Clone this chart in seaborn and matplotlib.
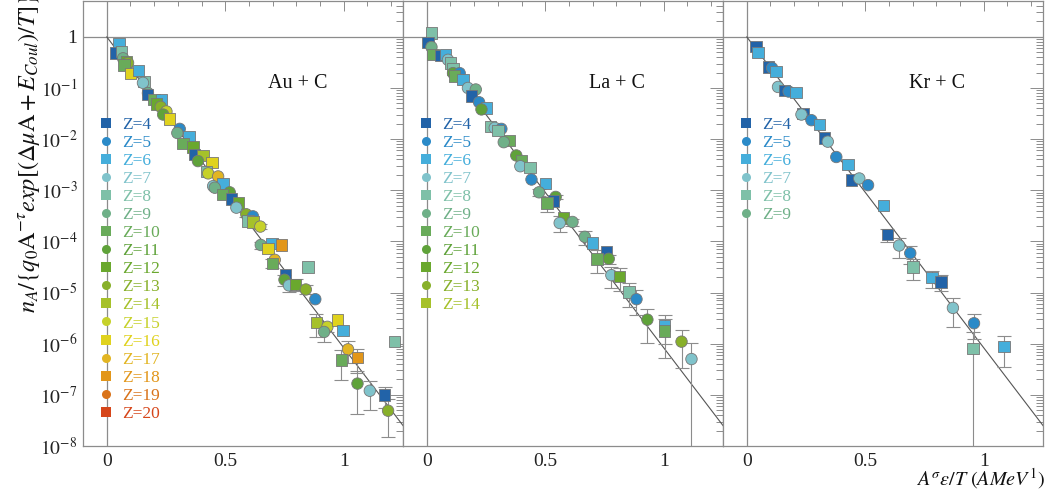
import numpy as np
import pandas as pd
import matplotlib
matplotlib.use('Agg')
import matplotlib.pyplot as plt
import seaborn as sns
from matplotlib.lines import Line2D
from matplotlib.ticker import MultipleLocator, LogLocator, FixedLocator, FixedFormatter, NullFormatter

# ---- datos (log10 del rendimiento escalado) ----
# Au + C
au_z = [6, 4, 8, 9, 12, 13, 10, 16, 6, 8, 7, 9, 4, 10, 6, 12, 13, 15, 11, 16,
        5, 9, 6, 10, 12, 4, 14, 11, 16, 8, 15, 17, 6, 7, 9, 11, 10, 4, 12, 7,
        13, 5, 8, 14, 15, 9, 6, 18, 16, 17, 10, 8, 4, 11, 7, 12, 13, 5, 14, 15,
        9, 16, 6, 17, 18, 10, 11, 7, 4, 13, 8]
au_x = [0.051, 0.037, 0.062, 0.069, 0.083, 0.090, 0.073, 0.101, 0.135, 0.157,
        0.153, 0.174, 0.172, 0.200, 0.231, 0.210, 0.228, 0.252, 0.238, 0.266,
        0.308, 0.298, 0.347, 0.322, 0.364, 0.371, 0.406, 0.385, 0.444, 0.421,
        0.428, 0.470, 0.491, 0.449, 0.456, 0.519, 0.488, 0.526, 0.557, 0.547,
        0.589, 0.617, 0.596, 0.617, 0.648, 0.650, 0.698, 0.737, 0.681, 0.709,
        0.699, 0.849, 0.755, 0.750, 0.769, 0.797, 0.840, 0.880, 0.885, 0.931,
        0.917, 0.973, 0.997, 1.018, 1.058, 0.990, 1.058, 1.110, 1.173, 1.187,
        1.214]
au_logy = [-0.14, -0.32, -0.29, -0.42, -0.48, -0.51, -0.55, -0.72, -0.66, -0.87,
           -0.90, -1.10, -1.13, -1.23, -1.23, -1.31, -1.37, -1.46, -1.52, -1.61,
           -1.80, -1.88, -1.96, -2.09, -2.15, -2.30, -2.32, -2.43, -2.46, -2.63,
           -2.67, -2.73, -2.87, -2.92, -2.95, -3.04, -3.08, -3.17, -3.25, -3.34,
           -3.47, -3.51, -3.60, -3.62, -3.71, -4.07, -4.04, -4.07, -4.14, -4.36,
           -4.43, -4.50, -4.66, -4.75, -4.86, -4.84, -4.94, -5.13, -5.59, -5.67,
           -5.77, -5.54, -5.74, -6.11, -6.27, -6.32, -6.78, -6.92, -7.00, -7.31,
           -5.96]
au_err = [0] * 40 + [0.1, 0, 0, 0, 0.1, 0.15, 0, 0, 0, 0,
                     0.2, 0, 0, 0.25, 0.25, 0.25, 0.2, 0, 0.48, 0.2,
                     0.36, 0, 0, 0.45, 0.5, 0.6, 0.75, 0.57, 0.45, 0.7,
                     0]

# La + C
la_z = [8, 4, 9, 10, 4, 6, 7, 8, 8, 11, 5, 10, 6, 7, 9, 4, 5, 6, 11, 8,
        7, 5, 8, 10, 9, 11, 10, 7, 8, 5, 6, 9, 11, 4, 10, 12, 7, 9, 9, 6,
        4, 11, 10, 7, 12, 8, 5, 11, 6, 10, 13, 7]
la_x = [0.020, 0.006, 0.020, 0.027, 0.058, 0.080, 0.090, 0.100, 0.111, 0.111,
        0.139, 0.118, 0.153, 0.174, 0.207, 0.189, 0.221, 0.252, 0.231, 0.269,
        0.287, 0.315, 0.301, 0.350, 0.325, 0.378, 0.400, 0.395, 0.435, 0.442,
        0.502, 0.474, 0.544, 0.536, 0.508, 0.578, 0.561, 0.615, 0.667, 0.699,
        0.758, 0.768, 0.719, 0.779, 0.814, 0.854, 0.885, 0.931, 1.004, 1.004,
        1.075, 1.117]
la_logy = [0.07, -0.11, -0.20, -0.35, -0.37, -0.35, -0.45, -0.51, -0.63, -0.71,
           -0.71, -0.77, -0.83, -1.00, -1.03, -1.16, -1.28, -1.39, -1.42, -1.75,
           -1.78, -1.80, -1.83, -2.03, -2.06, -2.32, -2.43, -2.53, -2.56, -2.79,
           -2.87, -3.04, -3.13, -3.21, -3.25, -3.54, -3.64, -3.62, -3.91, -4.03,
           -4.21, -4.34, -4.34, -4.66, -4.69, -4.99, -5.13, -5.53, -5.64, -5.75,
           -5.96, -6.30]
la_err = [0] * 31 + [0.15, 0.1, 0, 0.34, 0, 0.34, 0.15, 0.3, 0,
                     0, 0.2, 0.47, 0.44, 0.47, 0.5, 0.5, 0.65, 0.57, 0.7,
                     0.7, 1.05]

# Kr + C
kr_z = [4, 6, 4, 5, 6, 7, 4, 5, 6, 4, 7, 5, 6, 4, 7, 5, 6, 4, 7, 5,
        6, 4, 7, 5, 8, 6, 4, 7, 5, 8, 6]
kr_x = [0.039, 0.048, 0.093, 0.107, 0.124, 0.132, 0.160, 0.177, 0.208, 0.238,
        0.231, 0.273, 0.308, 0.328, 0.342, 0.378, 0.427, 0.442, 0.475, 0.512,
        0.578, 0.593, 0.643, 0.690, 0.701, 0.782, 0.820, 0.870, 0.959, 0.954,
        1.085]
kr_logy = [-0.19, -0.31, -0.59, -0.61, -0.68, -0.98, -1.05, -1.07, -1.09, -1.50,
           -1.52, -1.63, -1.71, -1.98, -2.05, -2.35, -2.50, -2.80, -2.77, -2.90,
           -3.30, -3.86, -4.08, -4.23, -4.50, -4.71, -4.79, -5.30, -5.60, -6.09,
           -6.05]
kr_err = [0] * 21 + [0.28, 0.42, 0.39, 0.45, 0.38, 0.35, 0.58, 0.5, 1.05, 0.6]

paneles = ['Au + C', 'La + C', 'Kr + C']
z_leyenda = [list(range(4, 21)), list(range(4, 15)), list(range(4, 10))]
pendiente = [14.0, 14.0, 14.0]   # ajuste exp(-k x)

colores = {4: '#2263a8', 5: '#2b8ac8', 6: '#45aedb', 7: '#80c3cb', 8: '#7ec0a8',
           9: '#6fb088', 10: '#69ab5a', 11: '#5fa23a', 12: '#6aa82e', 13: '#88b02a',
           14: '#a6c12a', 15: '#c6d12a', 16: '#e0d21e', 17: '#e2b523', 18: '#e2961a',
           19: '#d9731a', 20: '#d6461a'}
marcas = {z: ('s' if z % 2 == 0 else 'o') for z in colores}

sns.set_theme(style='white')
plt.rcParams['font.family'] = ['Liberation Serif', 'DejaVu Serif']
plt.rcParams['mathtext.fontset'] = 'stix'

gris = '#8c8c8c'
fig = plt.figure(figsize=(10.5, 4.93), dpi=100)

datos = [(au_z, au_x, au_logy, au_err), (la_z, la_x, la_logy, la_err),
         (kr_z, kr_x, kr_logy, kr_err)]

izq = 83 / 1050
ancho = 320 / 1050
abajo = 1 - 446 / 493
alto = 445 / 493

for i, (zz, xx, ly, ee) in enumerate(datos):
    ax = fig.add_axes([izq + i * ancho, abajo, ancho, alto])
    df = pd.DataFrame({'Z': zz, 'x': xx, 'y': 10 ** np.array(ly), 'err': ee})

    ax.set_yscale('log')
    ax.axhline(1, color=gris, lw=0.9, zorder=1)
    ax.axvline(0, color=gris, lw=0.9, zorder=1)

    # recta de ajuste
    xs = np.linspace(0, 1.3, 100)
    ax.plot(xs, np.exp(-pendiente[i] * xs), color='#555555', lw=0.8, zorder=2)

    con_err = df[df['err'] > 0]
    ax.errorbar(con_err['x'], con_err['y'], yerr=con_err['err'] * con_err['y'],
                fmt='none', ecolor=gris, elinewidth=0.8, capsize=5, capthick=0.8,
                zorder=2)

    sns.scatterplot(data=df, x='x', y='y', hue='Z', palette=colores, style='Z',
                    markers=marcas, s=68, edgecolor='#777777', linewidth=0.6,
                    legend=False, ax=ax, zorder=3)

    ax.set_xlim(-0.1, 1.25)
    ax.set_ylim(1e-8, 10 ** 0.70)
    ax.set_xlabel('')
    ax.set_ylabel('')

    ax.xaxis.set_minor_locator(MultipleLocator(0.1))
    ax.set_xticks([0, 0.5, 1])
    ax.set_xticklabels(['0', '0.5', '1'])
    ax.yaxis.set_major_locator(FixedLocator([10.0 ** k for k in range(-8, 1)]))
    ax.yaxis.set_major_formatter(FixedFormatter(
        [r'$10^{%d}$' % k for k in range(-8, 0)] + ['1']))
    ax.yaxis.set_minor_locator(LogLocator(base=10, subs=np.arange(2, 10), numticks=20))
    ax.yaxis.set_minor_formatter(NullFormatter())

    ax.tick_params(which='both', direction='in', top=True, right=True,
                   color=gris, width=0.7, labelsize=14, labelcolor='#222222')
    ax.tick_params(axis='x', which='major', length=7, pad=5)
    ax.tick_params(axis='x', which='minor', length=3.5)
    ax.tick_params(axis='y', which='major', length=9.5, pad=4)
    ax.tick_params(axis='y', which='minor', length=5)
    if i > 0:
        ax.tick_params(labelleft=False)
    for sp in ax.spines.values():
        sp.set_color(gris)
        sp.set_linewidth(0.9)

    ax.text(0.67, 0.815, paneles[i], transform=ax.transAxes, ha='center',
            va='center', fontsize=14.5, color='#111111')

    manejadores = [Line2D([], [], ls='none', marker=marcas[z], color=colores[z],
                          markersize=6.5, markeredgewidth=0) for z in z_leyenda[i]]
    ax.legend(manejadores, ['Z=%d' % z for z in z_leyenda[i]], loc='upper left',
              bbox_to_anchor=(0.056, 0.74), frameon=False, fontsize=12.5,
              handlelength=0.6, handletextpad=0.6, labelspacing=0.11,
              borderaxespad=0, borderpad=0, labelcolor='markerfacecolor')

fig.text(29 / 1050, 1.012, r'$n_A/\{q_0\mathrm{A}^{-\tau}exp[(\Delta\mu\mathrm{A}+E_{Coul})/T]\}$',
         rotation=90, ha='center', va='top', fontsize=17.5, color='#111111')
fig.text(1045 / 1050, 1 - 479 / 493, r'$A^{\sigma}\varepsilon/T\ (AMeV^{1})$',
         ha='right', va='center', fontsize=14.5, color='#111111')

fig.savefig('out.png', dpi=100)
